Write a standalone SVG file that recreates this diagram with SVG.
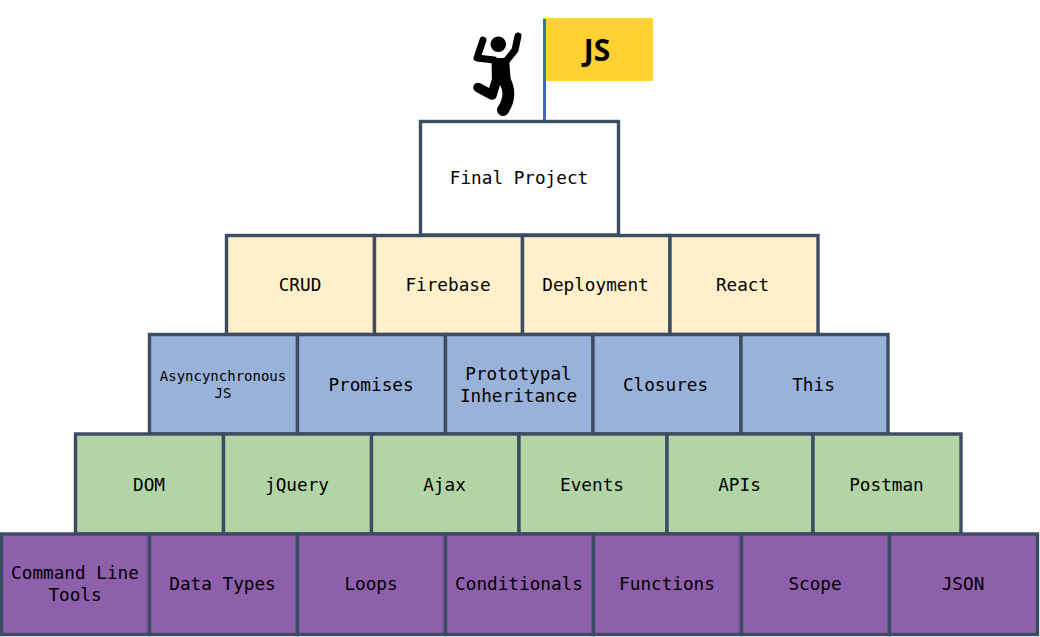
<svg xmlns="http://www.w3.org/2000/svg" width="1040" height="637" viewBox="0 0 1040 637">
<style>
.b{stroke:#3c4d63;stroke-width:3.400}
.w{fill:#fff}.y{fill:#fff0cc}.u{fill:#99b2da}.g{fill:#b3d5a5}.p{fill:#8e5faa}
text{font-family:"DejaVu Sans Mono","Liberation Mono",monospace;font-size:17.700px;fill:#000;text-anchor:middle}
.s{font-size:14px}
.j{font-family:"Open Sans","Liberation Sans",sans-serif;font-weight:700;font-size:30px}
.l{stroke:#000;stroke-linecap:round;stroke-linejoin:round;fill:none}
</style>
<rect width="1040" height="637" fill="#fff"/>
<g id="flag"><rect x="543" y="18" width="110" height="63" fill="#ffd133"/><text class="j" x="597" y="61">JS</text></g>
<g id="connectors"><line x1="544.500" y1="19" x2="544.500" y2="121" stroke="#3d6cb0" stroke-width="3"/></g>
<g id="person">
<circle cx="498.300" cy="44.300" r="7.800" fill="#000"/>
<path class="l" stroke-width="7" d="M483 40L477 58L494 60M518 36L515 50L507 60"/>
<path d="M491.500 58H509L511 85H492Z" fill="#000"/>
<path class="l" stroke-width="12" d="M504.500 80C510 90 510 99 503 110"/>
<path class="l" stroke-width="9.500" d="M496 82L492 95L478 87.500"/>
</g>
<g id="n-final"><rect class="b w" x="420.500" y="121.500" width="198" height="113.500"/><text x="519" y="184">Final Project</text></g>
<g id="n-crud"><rect class="b y" x="226.500" y="235.500" width="148" height="99"/><text x="300" y="291">CRUD</text></g>
<g id="n-firebase"><rect class="b y" x="374.500" y="235.500" width="148" height="99"/><text x="448" y="291">Firebase</text></g>
<g id="n-deployment"><rect class="b y" x="522.500" y="235.500" width="147.500" height="99"/><text x="595.500" y="291">Deployment</text></g>
<g id="n-react"><rect class="b y" x="670" y="235.500" width="148" height="99"/><text x="742.500" y="291">React</text></g>
<g id="n-async"><rect class="b u" x="149.500" y="334.500" width="148" height="99.500"/><text class="s" x="223" y="381">Asyncynchronous</text><text class="s" x="223" y="398">JS</text></g>
<g id="n-promises"><rect class="b u" x="297.500" y="334.500" width="148" height="99.500"/><text x="371" y="391">Promises</text></g>
<g id="n-proto"><rect class="b u" x="445.500" y="334.500" width="147.500" height="99.500"/><text x="518.500" y="380">Prototypal</text><text x="518.500" y="402">Inheritance</text></g>
<g id="n-closures"><rect class="b u" x="593" y="334.500" width="148" height="99.500"/><text x="665.500" y="391">Closures</text></g>
<g id="n-this"><rect class="b u" x="741" y="334.500" width="147" height="99.500"/><text x="813.500" y="391">This</text></g>
<g id="n-dom"><rect class="b g" x="75.500" y="434" width="148" height="100"/><text x="149" y="491">DOM</text></g>
<g id="n-jquery"><rect class="b g" x="223.500" y="434" width="148" height="100"/><text x="297" y="491">jQuery</text></g>
<g id="n-ajax"><rect class="b g" x="371.500" y="434" width="147.500" height="100"/><text x="444.500" y="491">Ajax</text></g>
<g id="n-events"><rect class="b g" x="519" y="434" width="148" height="100"/><text x="592" y="491">Events</text></g>
<g id="n-apis"><rect class="b g" x="667" y="434" width="146" height="100"/><text x="739.500" y="491">APIs</text></g>
<g id="n-postman"><rect class="b g" x="813" y="434" width="148" height="100"/><text x="886.500" y="491">Postman</text></g>
<g id="n-cli"><rect class="b p" x="1.500" y="534" width="148" height="100.500"/><text x="75" y="579">Command Line</text><text x="75" y="601">Tools</text></g>
<g id="n-types"><rect class="b p" x="149.500" y="534" width="148" height="100.500"/><text x="222.500" y="590">Data Types</text></g>
<g id="n-loops"><rect class="b p" x="297.500" y="534" width="148" height="100.500"/><text x="371" y="590">Loops</text></g>
<g id="n-cond"><rect class="b p" x="445.500" y="534" width="148" height="100.500"/><text x="519" y="590">Conditionals</text></g>
<g id="n-func"><rect class="b p" x="593.500" y="534" width="148" height="100.500"/><text x="667" y="590">Functions</text></g>
<g id="n-scope"><rect class="b p" x="741.500" y="534" width="148" height="100.500"/><text x="815" y="590">Scope</text></g>
<g id="n-json"><rect class="b p" x="889.500" y="534" width="148" height="100.500"/><text x="963" y="590">JSON</text></g>
</svg>
